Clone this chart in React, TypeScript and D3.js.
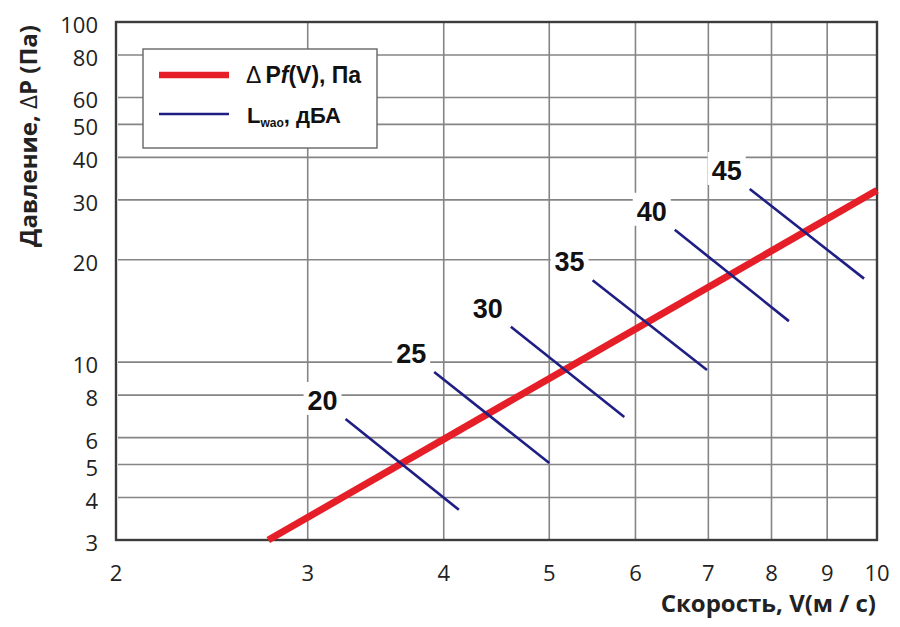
import React from "react";
import * as d3 from "d3";

const xTicks = [2, 3, 4, 5, 6, 7, 8, 9, 10];
const yTicks = [3, 4, 5, 6, 8, 10, 20, 30, 40, 50, 60, 80, 100];

const pressureV = [2.76, 10];
const pressureP = [3, 32];

const noiseLevels = [20, 25, 30, 35, 40, 45];
const noiseStartV = [3.25, 3.92, 4.61, 5.48, 6.52, 7.64];
const noiseStartP = [6.81, 9.35, 12.7, 17.4, 24.5, 32.3];
const noiseEndV = [4.13, 5.0, 5.86, 6.98, 8.3, 9.73];
const noiseEndP = [3.68, 5.05, 6.9, 9.48, 13.2, 17.6];

const W = 900;
const H = 627;
const L = 116;
const R = 877;
const T = 22;
const B = 540;

const RED = "#e61e28";
const BLUE = "#1e1e84";
const GRID = "#858585";
const FRAME = "#3c3c3c";

export default function App() {
  const x = d3.scaleLog().domain([2, 10]).range([L, R]);
  const y = d3.scaleLog().domain([3, 100]).range([B, T]);

  const redLine = d3
    .line<number>()
    .x((_, i) => x(pressureV[i]))
    .y((_, i) => y(pressureP[i]))(pressureV) as string;

  const tickFont = "'Open Sans', 'Noto Sans', sans-serif";
  const boldFont = "'Liberation Sans', Arial, sans-serif";

  return (
    <svg
      width={W}
      height={H}
      style={{ position: "absolute", left: 0, top: 0, background: "#fff" }}
    >
      {/* grid */}
      {xTicks
        .filter((v) => v > 2 && v < 10)
        .map((v) => (
          <line
            key={"gx" + v}
            x1={x(v)}
            x2={x(v)}
            y1={T}
            y2={B}
            stroke={GRID}
            strokeWidth={1.6}
          />
        ))}
      {yTicks
        .filter((v) => v > 3 && v < 100)
        .map((v) => (
          <line
            key={"gy" + v}
            x1={L + 2}
            x2={R}
            y1={y(v)}
            y2={y(v)}
            stroke={GRID}
            strokeWidth={1.6}
          />
        ))}

      {/* frame */}
      <rect
        x={L}
        y={T}
        width={R - L}
        height={B - T}
        fill="none"
        stroke={FRAME}
        strokeWidth={2.4}
      />

      {/* legend */}
      <rect x={143} y={49} width={234} height={99} fill="#fff" stroke="#666" strokeWidth={1.4} />
      <line x1={159} x2={229} y1={75} y2={75} stroke={RED} strokeWidth={6.5} />
      <line x1={159} x2={229} y1={114} y2={114} stroke={BLUE} strokeWidth={2.6} />
      <text x={246} y={83} fontFamily={boldFont} fontSize={23} fill="#111">
        <tspan fontWeight="normal">Δ</tspan>
        <tspan dx={4} fontWeight="bold">P</tspan>
        <tspan fontWeight="bold" fontStyle="italic">f</tspan>
        <tspan fontWeight="bold">(V), Па</tspan>
      </text>
      <text x={247} y={123} fontFamily={boldFont} fontSize={22} fontWeight="bold" fill="#111">
        L<tspan fontSize={12} dy={4}>wao</tspan>
        <tspan dy={-4}>, дБА</tspan>
      </text>

      {/* red pressure line */}
      <path d={redLine} fill="none" stroke={RED} strokeWidth={7} />

      {/* noise lines */}
      {noiseLevels.map((lv, i) => {
        const x1 = x(noiseStartV[i]);
        const y1 = y(noiseStartP[i]);
        const cx = x1 - 23;
        const by = y1 - 9;
        return (
          <g key={"n" + lv}>
            <line
              x1={x1}
              y1={y1}
              x2={x(noiseEndV[i])}
              y2={y(noiseEndP[i])}
              stroke={BLUE}
              strokeWidth={2.6}
            />
            <rect x={cx - 19} y={by - 28} width={38} height={33} fill="#fff" />
            <text
              x={cx}
              y={by}
              textAnchor="middle"
              fontFamily={boldFont}
              fontWeight="bold"
              fontSize={27}
              fill="#111"
            >
              {lv}
            </text>
          </g>
        );
      })}

      {/* tick labels */}
      {yTicks.map((v) => (
        <text
          key={"ty" + v}
          x={98}
          y={y(v) + 11}
          textAnchor="end"
          fontFamily={tickFont}
          fontSize={22}
          fill="#222"
        >
          {v}
        </text>
      ))}
      {xTicks.map((v) => (
        <text
          key={"tx" + v}
          x={x(v)}
          y={581}
          textAnchor="middle"
          fontFamily={tickFont}
          fontSize={22}
          fill="#222"
        >
          {v}
        </text>
      ))}

      {/* axis titles */}
      <text
        x={876}
        y={612}
        textAnchor="end"
        fontFamily={tickFont}
        fontWeight="bold"
        fontSize={24}
        fill="#222"
      >
        Скорость, V(м / с)
      </text>
      <text
        transform="translate(37,136) rotate(-90)"
        textAnchor="middle"
        fontFamily={tickFont}
        fontWeight="bold"
        fontSize={24}
        fill="#222"
      >
        Давление, <tspan fontWeight="normal">Δ</tspan>P (Па)
      </text>
    </svg>
  );
}
